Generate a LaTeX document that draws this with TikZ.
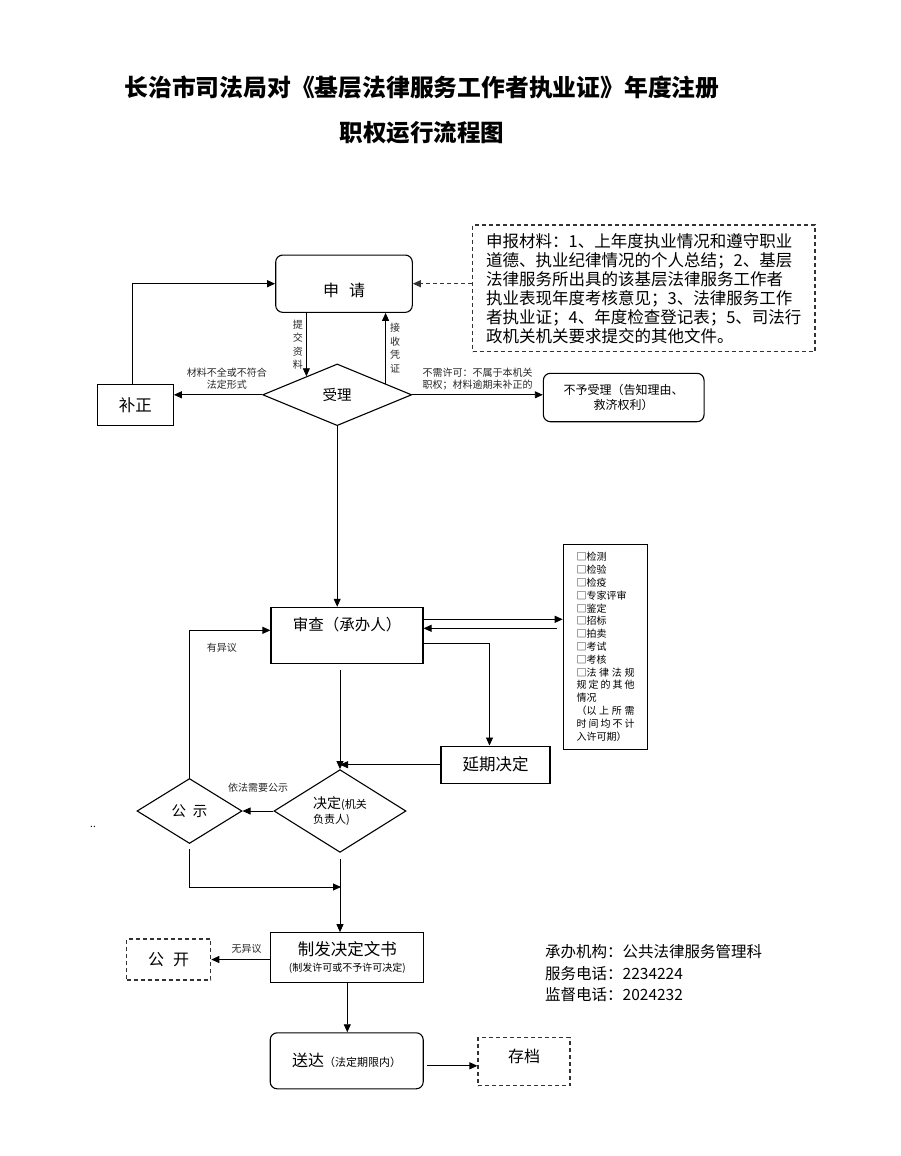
\documentclass[tikz,border=0pt]{standalone}
\usepackage{fontspec}
\setmainfont{Noto Sans CJK SC}
\usepackage{tikz}
\usetikzlibrary{shapes.geometric, arrows.meta, positioning, calc}

\begin{document}
\begin{tikzpicture}[
  x=1pt, y=-1pt,
  box/.style={rectangle, draw=black, line width=1.1pt, align=center, inner sep=0pt,
              font=\fontsize{16}{19}\selectfont},
  roundbox/.style={box, rounded corners=7pt},
  dashbox/.style={box, draw=black!80, dash pattern=on 4pt off 3pt},
  decision/.style={diamond, draw=black, line width=1.1pt, inner sep=0pt, align=center,
              font=\fontsize{14.5}{17}\selectfont},
  lbl/.style={font=\fontsize{10}{12}\selectfont, text=black!85, inner sep=0pt, align=center},
  vlbl/.style={lbl, font=\fontsize{10}{13.5}\selectfont},
  arrow/.style={->, line width=0.9pt, >={Triangle[length=8pt,width=7pt]}},
  darrow/.style={arrow, draw=black!80, dash pattern=on 4pt off 3pt}
]
\useasboundingbox (0,0) rectangle (900,1156);

% Title
\node[font=\fontsize{23.8}{26}\selectfont\bfseries] (title) at (422,87)
  {长治市司法局对《基层法律服务工作者执业证》年度注册};
\node[font=\fontsize{23.5}{26}\selectfont\bfseries] (subtitle) at (422,133) {职权运行流程图};

% Application
\node[roundbox, minimum width=136.6pt, minimum height=57.3pt, text height=26pt] (apply)
  at (344,283.7) {申\hspace{10pt}请};
\node[dashbox, minimum width=342.3pt, minimum height=126.7pt, align=left,
      font=\fontsize{16.5}{19}\selectfont] (material) at (643.8,288.3)
  {申报材料：1、上年度执业情况和遵守职业\\
   道德、执业纪律情况的个人总结；2、基层\\
   法律服务所出具的该基层法律服务工作者\\
   执业表现年度考核意见；3、法律服务工作\\
   者执业证；4、年度检查登记表；5、司法行\\
   政机关机关要求提交的其他文件。};

% Acceptance
\node[decision, minimum width=149pt, minimum height=61.7pt] (accept) at (337.2,394.8) {受理};
\node[box, minimum width=76pt, minimum height=41.7pt, font=\fontsize{16.5}{19}\selectfont]
  (fix) at (135.3,405) {补正};
\node[roundbox, minimum width=160.7pt, minimum height=48.4pt, font=\fontsize{12}{15}\selectfont]
  (reject) at (623.7,397.5) {不予受理（告知理由、\\救济权利）};

% Review
\node[box, minimum width=152pt, minimum height=56pt, font=\fontsize{15.5}{22}\selectfont]
  (review) at (347,635.3) {审查（承办人）\\\mbox{}};
\node[box, minimum height=205pt, text width=58pt, inner xsep=13.25pt, align=left,
      font=\fontsize{10}{12.8}\selectfont] (check) at (605.5,646.8)
  {□检测\\□检验\\□检疫\\□专家评审\\□鉴定\\□招标\\□拍卖\\□考试\\□考核\\
   \makebox[58pt][s]{□法\hfill 律\hfill 法\hfill 规}\\
   \makebox[58pt][s]{规\hfill 定\hfill 的\hfill 其\hfill 他}\\
   情况\\
   \makebox[58pt][s]{（以\hfill 上\hfill 所\hfill 需}\\
   \makebox[58pt][s]{时\hfill 间\hfill 均\hfill 不\hfill 计}\\
   入许可期）};
\node[box, minimum width=109pt, minimum height=37.3pt, font=\fontsize{16.5}{19}\selectfont]
  (delay) at (495.5,764.7) {延期决定};

% Decision
\node[decision, minimum width=132pt, minimum height=66pt, align=left,
      font=\fontsize{14}{15}\selectfont] (decide) at (340,811)
  {决定{\fontsize{11}{15}\selectfont(机关}\\{\fontsize{11}{15}\selectfont 负责人)}};
\node[decision, minimum width=105pt, minimum height=65pt] (publicity) at (189.5,811)
  {公\hspace{7pt}示};
\node[font=\fontsize{10}{12}\selectfont, inner sep=0pt] (dots) at (93,827) {..};
\coordinate (merge) at (341,887);

% Issue and delivery
\node[box, minimum width=153pt, minimum height=50pt, font=\fontsize{16.5}{19}\selectfont]
  (issue) at (347.3,957.7)
  {制发决定文书\\[-3pt]{\fontsize{10}{12}\selectfont (制发许可或不予许可决定)}};
\node[dashbox, minimum width=84pt, minimum height=41pt] (open) at (168.7,959.5)
  {公\hspace{9pt}开};
\node[roundbox, minimum width=153pt, minimum height=56pt] (deliver) at (346.7,1060.8)
  {送达{\fontsize{11}{13}\selectfont（法定期限内）}};
\node[dashbox, minimum width=92pt, minimum height=48pt] (archive) at (524,1061.5)
  {存档\\[-8pt]\mbox{}};

% Contact
\node[font=\fontsize{15.5}{21.3}\selectfont, align=left, anchor=west, inner sep=0pt]
  (info) at (545,973.3)
  {承办机构：公共法律服务管理科\\服务电话：2234224\\监督电话：2024232};

% Edges
\draw[arrow] (apply.south -| accept.149) -- (accept.149)
  node[vlbl, midway, left=3pt] (lblsubmit) {提\\交\\资\\料};
\draw[arrow] (accept.13) -- (accept.13 |- apply.south)
  node[vlbl, midway, right=4pt] (lblreceipt) {接\\收\\凭\\证};
\draw[darrow] (material.west |- apply.east) -- (apply.east);
\draw[arrow] (accept.west) -- (accept.west -| fix.east)
  node[lbl, pos=0.4, above=5pt] (lblincomplete) {材料不全或不符合\\法定形式};
\draw[arrow] ([xshift=-3pt]fix.north) |- (apply.west);
\draw[arrow] (accept.east) -- (accept.east -| reject.west)
  node[lbl, midway, above=4pt, align=left] (lblreject) {不需许可：不属于本机关\\职权；材料逾期未补正的};
\draw[arrow] (accept.south) -- (accept.south |- review.north);
\draw[arrow] ([yshift=16pt]review.east) -- ([yshift=16pt]review.east -| check.west);
\draw[arrow] ([xshift=-6pt,yshift=7pt]review.east -| check.west) -- ([yshift=7pt]review.east);
\draw[arrow] ([yshift=-8pt]review.east) -| ([xshift=-6pt]delay.north);
\draw[arrow] ([yshift=-6pt]review.south -| decide.north) -- (decide.north);
\draw[arrow] (delay.west) -- (delay.west -| decide.north);
\draw[arrow] (decide.west) -- (publicity.east)
  node[lbl, midway, above=18pt] (lblpublic) {依法需要公示};
\draw[arrow] (publicity.north) |- ([yshift=5pt]review.west)
  node[lbl, pos=0.7, below=12pt] (lblobject) {有异议};
\draw[arrow] ([yshift=-5pt]publicity.south) |- (merge);
\draw[arrow] ([yshift=-6pt]decide.south) -- (decide.south |- issue.north);
\draw[arrow] (issue.west |- open.east) -- (open.east)
  node[lbl, pos=0.4, above=6pt] (lblnoobject) {无异议};
\draw[arrow] (issue.south) -- (issue.south |- deliver.north);
\draw[arrow] ([xshift=3pt,yshift=-5pt]deliver.east) -- ([yshift=-5pt]deliver.east -| archive.west);
\end{tikzpicture}
\end{document}
